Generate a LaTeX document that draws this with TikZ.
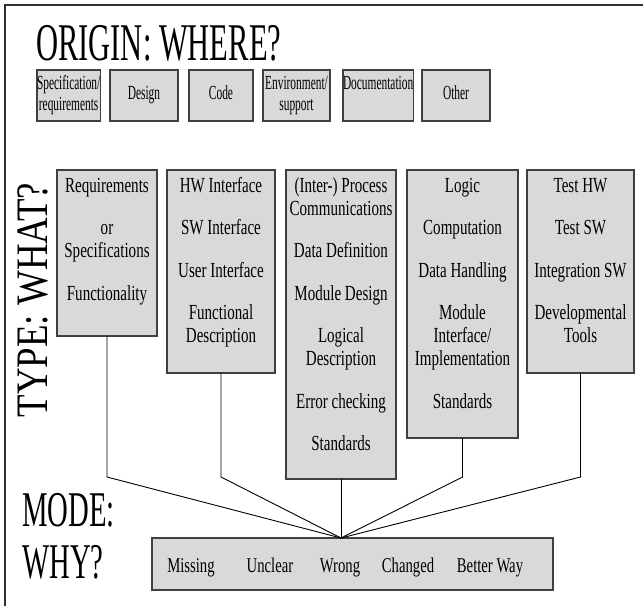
\documentclass[tikz,border=0pt]{standalone}
\usepackage{fontspec}
\setmainfont{Liberation Serif}
\usepackage{graphicx}
\definecolor{boxfill}{HTML}{D9D9D9}
\definecolor{boxline}{HTML}{404040}
\definecolor{frameline}{HTML}{303030}
\newcommand\sqz[1]{\scalebox{0.7}[1]{#1}}
\newcommand\cell[1]{\sqz{\begin{tabular}{@{}c@{}}#1\end{tabular}}}
\newcommand\ocell[1]{\scalebox{0.57}[1]{\begin{tabular}{@{}c@{}}#1\end{tabular}}}
\newcommand\pgap{\\[19.5pt]}
\begin{document}
\begin{tikzpicture}[x=1pt,y=-1pt,
  gbox/.style={draw=boxline,fill=boxfill,line width=1.2pt,inner sep=0pt,outer sep=0pt,anchor=north west},
  obox/.style={gbox,font=\fontsize{20}{21}\selectfont},
  ttext/.style={anchor=north,inner sep=0pt,font=\fontsize{21.5}{23}\selectfont},
  mword/.style={anchor=base,inner sep=0pt,font=\fontsize{21}{23}\selectfont},
  bigtext/.style={anchor=base west,inner sep=0pt,font=\fontsize{53}{53}\selectfont},
  modetext/.style={anchor=base west,inner sep=0pt,font=\fontsize{50}{50}\selectfont},
  conn/.style={draw=black,line width=0.9pt}]
\useasboundingbox (0,0) rectangle (643,606);
% frame
\draw[frameline,line width=1.4pt] (643,5) -- (5,5) -- (5,606);

% ORIGIN
\node[bigtext] (origin) at (36,60) {\scalebox{0.576}[1]{ORIGIN: WHERE?}};
\node[obox,minimum width=61pt,minimum height=51pt] (o1) at (37,70) {\ocell{Specification/\\requirements}};
\node[obox,minimum width=68pt,minimum height=51pt] (o2) at (110,70) {\ocell{Design}};
\node[obox,minimum width=64pt,minimum height=51pt] (o3) at (189,70) {\ocell{Code}};
\node[obox,minimum width=67pt,minimum height=51pt] (o4) at (263,70) {\ocell{Environment/\\support}};
\node[obox,minimum width=69pt,minimum height=51pt] (o5) at (343,70) {\ocell{Documentation\\\mbox{}}};
\node[obox,minimum width=68pt,minimum height=51pt] (o6) at (422,70) {\ocell{Other}};

% TYPE
\node[rotate=90,anchor=base,inner sep=0pt,font=\fontsize{45}{45}\selectfont] (type) at (47,300) {\scalebox{0.82}[1]{TYPE: WHAT?}};

\node[gbox,minimum width=100pt,minimum height=166pt] (tA) at (57,170) {};
\node[gbox,minimum width=108pt,minimum height=203pt] (tB) at (167,170) {};
\node[gbox,minimum width=110pt,minimum height=309pt] (tC) at (286,170) {};
\node[gbox,minimum width=111pt,minimum height=268pt] (tD) at (407,170) {};
\node[gbox,minimum width=107pt,minimum height=203pt] (tE) at (527,170) {};

\node[ttext] (tAt) at ([yshift=-6pt]tA.north) {\cell{Requirements\pgap or\\Specifications\pgap Functionality}};
\node[ttext] (tBt) at ([yshift=-6pt]tB.north) {\cell{HW Interface\pgap SW Interface\pgap User Interface\pgap Functional\\Description}};
\node[ttext] (tCt) at ([yshift=-6pt]tC.north) {\cell{(Inter-) Process\\Communications\pgap Data Definition\pgap Module Design\pgap Logical\\Description\pgap Error checking\pgap Standards}};
\node[ttext] (tDt) at ([yshift=-6pt]tD.north) {\cell{Logic\pgap Computation\pgap Data Handling\pgap Module\\Interface/\\Implementation\pgap Standards}};
\node[ttext] (tEt) at ([yshift=-6pt]tE.north) {\cell{Test HW\pgap Test SW\pgap Integration SW\pgap Developmental\\Tools}};

% MODE
\node[modetext] (modet) at (22,526) {\scalebox{0.574}[1]{MODE:}};
\node[modetext] (whyt) at (22,578) {\scalebox{0.574}[1]{WHY?}};
\node[gbox,minimum width=401pt,minimum height=52pt] (mode) at (152,538) {};
\node[mword] (m1) at (191,572) {\sqz{Missing}};
\node[mword] (m2) at (270,572) {\sqz{Unclear}};
\node[mword] (m3) at (340,572) {\sqz{Wrong}};
\node[mword] (m4) at (408,572) {\sqz{Changed}};
\node[mword] (m5) at (490,572) {\sqz{Better Way}};

% connectors
\coordinate (kink) at (0,477);
\coordinate (conv) at (tC.south |- mode.north);
\draw[conn] (tA.south) -- (tA.south |- kink) -- (conv);
\draw[conn] (tB.south) -- (tB.south |- kink) -- (conv);
\draw[conn] (tC.south) -- (conv);
\draw[conn] (tD.south) -- (tD.south |- kink) -- (conv);
\draw[conn] (tE.south) -- (tE.south |- kink) -- (conv);
\end{tikzpicture}
\end{document}
